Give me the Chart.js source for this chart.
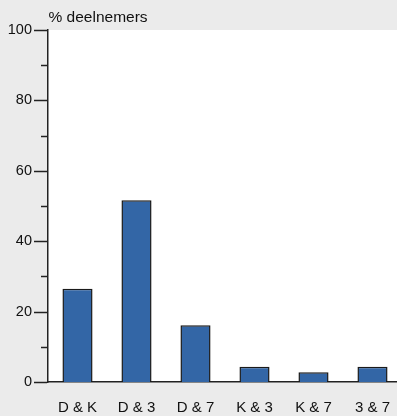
<!DOCTYPE html>
<html>
<head>
<meta charset="utf-8">
<script src="https://cdn.jsdelivr.net/npm/chart.js@4/dist/chart.umd.min.js"></script>
<style>
  html, body { margin: 0; padding: 0; background: #ebebeb; overflow: hidden; }
  #wrap { width: 402px; height: 416px; }
</style>
</head>
<body>
<div id="wrap"><canvas id="c" width="402" height="416"></canvas></div>
<script>
const categories = ["D & K", "D & 3", "D & 7", "K & 3", "K & 7", "3 & 7"];
const deelnemers = [26.5, 51.6, 16.1, 4.3, 2.8, 4.3];
const yTicks = [0, 20, 40, 60, 80, 100];
const yTitle = "% deelnemers";

const FONT = "'Liberation Sans', Arial, sans-serif";

// grey page, white plot area, axis tick marks, header text
const decor = {
  id: "decor",
  beforeDraw(chart) {
    const { ctx, chartArea: a } = chart;
    ctx.save();
    ctx.fillStyle = "#ebebeb";
    ctx.fillRect(0, 0, chart.width, chart.height);
    ctx.fillStyle = "#ffffff";
    ctx.fillRect(a.left, a.top, a.right - a.left, a.bottom - a.top);
    ctx.restore();
  },
  afterDraw(chart) {
    const { ctx, chartArea: a } = chart;
    const y = chart.scales.y;
    ctx.save();
    ctx.strokeStyle = "#222";
    ctx.lineWidth = 1.5;
    for (let v = 0; v <= 100; v += 10) {
      const py = Math.round(y.getPixelForValue(v)) + 0.5;
      const len = v % 20 === 0 ? 13 : 6;
      ctx.beginPath();
      ctx.moveTo(a.left - len - 1, py);
      ctx.lineTo(a.left - 1, py);
      ctx.stroke();
    }
    ctx.fillStyle = "#111";
    ctx.font = "15.5px " + FONT;
    ctx.textBaseline = "alphabetic";
    ctx.textAlign = "left";
    ctx.fillText(yTitle, 48.5, 22);
    ctx.restore();
  }
};

new Chart(document.getElementById("c"), {
  type: "bar",
  data: {
    labels: categories,
    datasets: [{
      data: deelnemers,
      backgroundColor: "#3366a6",
      borderColor: "#1a1a1a",
      borderWidth: 1.5,
      categoryPercentage: 1,
      barPercentage: 0.51
    }]
  },
  options: {
    responsive: false,
    animation: false,
    layout: { padding: { top: 30, right: 0, left: 0, bottom: 0 } },
    plugins: { legend: { display: false }, tooltip: { enabled: false } },
    scales: {
      x: {
        grid: { display: false, drawTicks: true, tickLength: 17, tickColor: "rgba(0,0,0,0)" },
        border: { display: true, color: "#222", width: 1.5 },
        ticks: { color: "#111", font: { family: FONT, size: 15 }, padding: 0, maxRotation: 0 },
        afterFit(s) { s.height = 34; s.paddingRight = 0; s.paddingLeft = 0; }
      },
      y: {
        min: 0,
        max: 100,
        grid: { display: false, drawTicks: false },
        border: { display: true, color: "#222", width: 1.5 },
        ticks: {
          stepSize: 20,
          color: "#111",
          font: { family: FONT, size: 14.5 },
          padding: 16,
          callback: v => yTicks.includes(v) ? v : ""
        },
        afterFit(s) { s.width = 48; }
      }
    }
  },
  plugins: [decor]
});
</script>
</body>
</html>
